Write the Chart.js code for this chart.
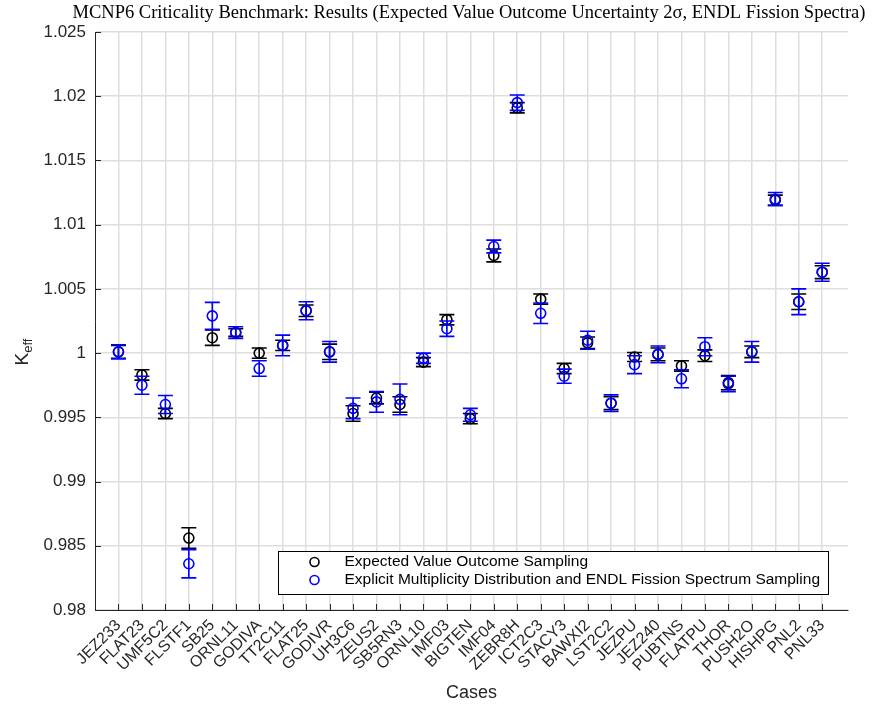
<!DOCTYPE html>
<html>
<head>
<meta charset="utf-8">
<script src="https://cdn.jsdelivr.net/npm/chart.js@4/dist/chart.umd.min.js"></script>
<style>
  html, body { margin: 0; padding: 0; background: #fff; }
  #wrap { width: 878px; height: 706px; }
</style>
</head>
<body>
<div id="wrap"><canvas id="chart" width="878" height="706"></canvas></div>
<script>
const cases = ['JEZ233','FLAT23','UMF5C2','FLSTF1','SB25','ORNL11','GODIVA','TT2C11','FLAT25','GODIVR',
  'UH3C6','ZEUS2','SB5RN3','ORNL10','IMF03','BIGTEN','IMF04','ZEBR8H','ICT2C3','STACY3','BAWXI2',
  'LST2C2','JEZPU','JEZ240','PUBTNS','FLATPU','THOR','PUSH2O','HISHPG','PNL2','PNL33'];

// expected value outcome sampling (black)
const keffExpected = [1.0001, 0.9983, 0.9953, 0.9856, 1.0012, 1.0016, 1.0000, 1.0006, 1.0033, 1.0001,
  0.9953, 0.9965, 0.9960, 0.9993, 1.0026, 0.9949, 1.0076, 1.0191, 1.0042, 0.9988, 1.0008,
  0.9961, 0.9997, 0.9999, 0.9990, 0.9998, 0.9977, 1.0001, 1.0119, 1.0040, 1.0063];
const errExpected = [0.0005, 0.0004, 0.0004, 0.0008, 0.0006, 0.0003, 0.0004, 0.0004, 0.00045, 0.0006,
  0.0006, 0.00045, 0.0006, 0.00035, 0.0004, 0.0004, 0.0005, 0.0004, 0.0004, 0.0004, 0.00045,
  0.0005, 0.00035, 0.0005, 0.0004, 0.00045, 0.00055, 0.00045, 0.0004, 0.0006, 0.0005];

// explicit multiplicity + ENDL fission spectrum (blue)
const keffExplicit = [1.0001, 0.9975, 0.9960, 0.9836, 1.0029, 1.0016, 0.9988, 1.0006, 1.0033, 1.0001,
  0.9957, 0.9962, 0.9964, 0.9996, 1.0019, 0.9952, 1.0083, 1.0195, 1.0031, 0.9982, 1.0010,
  0.9961, 0.9991, 0.9999, 0.9980, 1.0005, 0.9976, 1.0001, 1.0120, 1.0040, 1.0063];
const errExplicit = [0.00055, 0.0007, 0.0007, 0.0011, 0.00105, 0.00045, 0.0006, 0.0008, 0.0007, 0.0008,
  0.0008, 0.0008, 0.0012, 0.0004, 0.0006, 0.0005, 0.0005, 0.0006, 0.0008, 0.00055, 0.0007,
  0.00065, 0.0007, 0.00065, 0.0007, 0.0007, 0.0006, 0.0008, 0.0005, 0.001, 0.0007];

const yTicks = [0.98, 0.985, 0.99, 0.995, 1, 1.005, 1.01, 1.015, 1.02, 1.025];

const AXIS = '#262626';
const GRID = '#dedede';
const SANS = '"Liberation Sans", Arial, sans-serif';

const toPoints = (vals) => vals.map((v, i) => ({ x: i + 1, y: v }));

// error bars, drawn under each dataset's circles
const errorBars = {
  id: 'errorBars',
  beforeDatasetDraw(chart, args) {
    const ds = chart.data.datasets[args.index];
    if (!ds.errors) return;
    const ctx = chart.ctx, y = chart.scales.y;
    ctx.save();
    ctx.strokeStyle = ds.borderColor;
    ctx.lineWidth = 1.6;
    args.meta.data.forEach((pt, i) => {
      const v = ds.data[i].y, e = ds.errors[i];
      const top = y.getPixelForValue(v + e), bot = y.getPixelForValue(v - e);
      ctx.beginPath();
      ctx.moveTo(pt.x, top); ctx.lineTo(pt.x, bot);
      ctx.moveTo(pt.x - 7.5, top); ctx.lineTo(pt.x + 7.5, top);
      ctx.moveTo(pt.x - 7.5, bot); ctx.lineTo(pt.x + 7.5, bot);
      ctx.stroke();
    });
    ctx.restore();
  }
};

// title, y label with subscript, inward ticks, boxed legend
const extras = {
  id: 'extras',
  afterDraw(chart) {
    const ctx = chart.ctx, a = chart.chartArea;
    const xs = chart.scales.x, ys = chart.scales.y;
    ctx.save();

    ctx.fillStyle = '#000';
    ctx.font = '18.5px "Liberation Serif", "DejaVu Serif", serif';
    ctx.textAlign = 'center';
    ctx.textBaseline = 'middle';
    ctx.fillText('MCNP6 Criticality Benchmark: Results (Expected Value Outcome Uncertainty 2\u03c3, ENDL Fission Spectra)', 469, 13);

    // K_eff
    ctx.save();
    ctx.translate(22, 352);
    ctx.rotate(-Math.PI / 2);
    ctx.fillStyle = AXIS;
    ctx.textAlign = 'left';
    ctx.textBaseline = 'alphabetic';
    ctx.font = '19px ' + SANS;
    const kw = ctx.measureText('K').width;
    ctx.font = '13px ' + SANS;
    const ew = ctx.measureText('eff').width;
    const x0 = -(kw + ew) / 2;
    ctx.font = '19px ' + SANS;
    ctx.fillText('K', x0, 6);
    ctx.font = '13px ' + SANS;
    ctx.fillText('eff', x0 + kw, 10);
    ctx.restore();

    // inward tick marks
    ctx.strokeStyle = AXIS;
    ctx.lineWidth = 1;
    ctx.beginPath();
    yTicks.forEach(t => {
      const py = Math.round(ys.getPixelForValue(t)) + 0.5;
      ctx.moveTo(a.left, py); ctx.lineTo(a.left + 6, py);
    });
    cases.forEach((c, i) => {
      const px = Math.round(xs.getPixelForValue(i + 1)) + 0.5;
      ctx.moveTo(px, a.bottom); ctx.lineTo(px, a.bottom - 6);
    });
    ctx.stroke();

    // legend box
    const items = chart.data.datasets;
    ctx.font = '15.5px ' + SANS;
    const tw = Math.max(...items.map(d => ctx.measureText(d.label).width));
    const right = a.right - 20, bottom = a.bottom - 16;
    const left = right - (tw + 74), top = bottom - 43;
    ctx.fillStyle = '#fff';
    ctx.fillRect(left, top, right - left, bottom - top);
    ctx.strokeStyle = '#000';
    ctx.lineWidth = 1;
    ctx.strokeRect(Math.round(left) + 0.5, Math.round(top) + 0.5, Math.round(right - left), Math.round(bottom - top));
    items.forEach((d, i) => {
      const cy = top + 11 + i * 18;
      ctx.beginPath();
      ctx.strokeStyle = d.borderColor;
      ctx.lineWidth = 1.6;
      ctx.arc(left + 36, cy, 4.5, 0, Math.PI * 2);
      ctx.stroke();
      ctx.fillStyle = '#000';
      ctx.textAlign = 'left';
      ctx.textBaseline = 'middle';
      ctx.fillText(d.label, left + 66, cy);
    });
    ctx.restore();
  }
};

new Chart(document.getElementById('chart'), {
  type: 'scatter',
  data: {
    datasets: [
      {
        label: 'Expected Value Outcome Sampling',
        data: toPoints(keffExpected),
        errors: errExpected,
        borderColor: '#000000',
        backgroundColor: 'rgba(0,0,0,0)',
        pointRadius: 5, pointBorderWidth: 1.6, pointHoverRadius: 5,
        order: 1
      },
      {
        label: 'Explicit Multiplicity Distribution and ENDL Fission Spectrum Sampling',
        data: toPoints(keffExplicit),
        errors: errExplicit,
        borderColor: '#0000ff',
        backgroundColor: 'rgba(0,0,0,0)',
        pointRadius: 5, pointBorderWidth: 1.6, pointHoverRadius: 5,
        order: 0
      }
    ]
  },
  options: {
    responsive: false,
    animation: false,
    layout: { padding: { top: 32, right: 30, left: 0, bottom: 0 } },
    plugins: {
      legend: { display: false },
      title: { display: false },
      tooltip: { enabled: false }
    },
    scales: {
      x: {
        type: 'linear',
        min: 0, max: 32.1,
        afterBuildTicks: (s) => { s.ticks = cases.map((c, i) => ({ value: i + 1 })); },
        afterFit: (s) => { s.height = 96; },
        grid: { color: GRID, lineWidth: 1.5, drawTicks: false },
        border: { display: true, color: AXIS, width: 1 },
        ticks: {
          autoSkip: false,
          minRotation: 45, maxRotation: 45,
          padding: 6,
          color: AXIS,
          font: { family: SANS, size: 16 },
          callback: (v) => cases[v - 1] ?? ''
        },
        title: {
          display: true, text: 'Cases', color: AXIS,
          font: { family: SANS, size: 18 },
          padding: { top: 0, bottom: 2 }
        }
      },
      y: {
        min: 0.98, max: 1.025,
        afterBuildTicks: (s) => { s.ticks = yTicks.map(v => ({ value: v })); },
        afterFit: (s) => { s.width = 95; },
        grid: { color: GRID, lineWidth: 1.5, drawTicks: false },
        border: { display: true, color: AXIS, width: 1 },
        ticks: {
          padding: 9,
          color: AXIS,
          font: { family: SANS, size: 17 },
          callback: (v) => String(Number(v.toFixed(3)))
        }
      }
    }
  },
  plugins: [errorBars, extras]
});
</script>
</body>
</html>
